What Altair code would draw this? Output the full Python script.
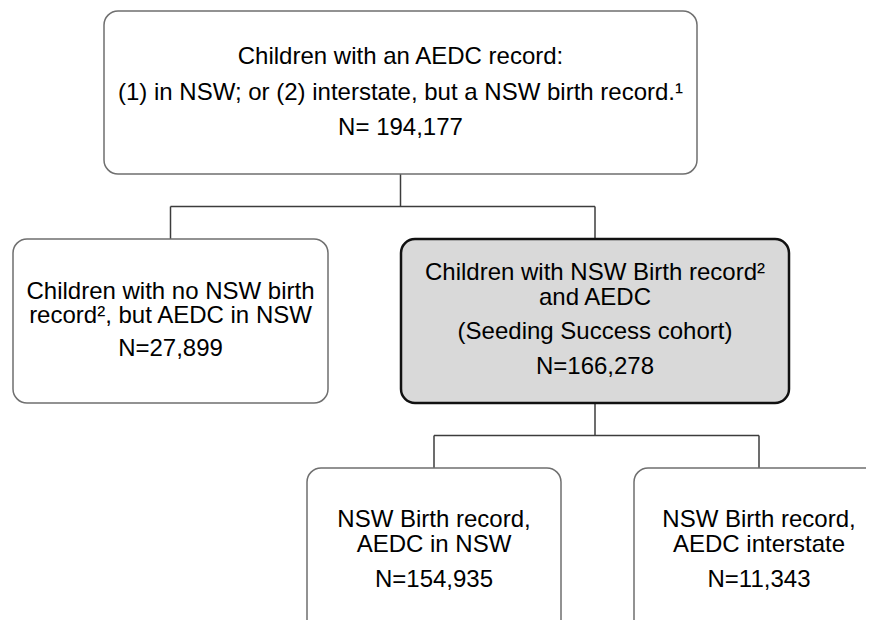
import altair as alt
import pandas as pd

# ---------------- content ----------------
node_ids = ["root", "no_birth", "cohort", "aedc_nsw", "aedc_inter"]
node_lines = [
    ["Children with an AEDC record:",
     "(1) in NSW; or (2) interstate, but a NSW birth record.\u00b9",
     "N= 194,177"],
    ["Children with no NSW birth", "record\u00b2, but AEDC in NSW", "N=27,899"],
    ["Children with NSW Birth record\u00b2", "and AEDC", "(Seeding Success cohort)", "N=166,278"],
    ["NSW Birth record,", "AEDC in NSW", "N=154,935"],
    ["NSW Birth record,", "AEDC interstate", "N=11,343"],
]
edge_parent = ["root", "root", "cohort", "cohort"]
edge_child = ["no_birth", "cohort", "aedc_nsw", "aedc_inter"]
highlighted = ["cohort"]

# ---------------- layout (pixel geometry of the flowchart) ----------------
layout = {
    "root":       dict(x0=104, x1=697, y0=11,  y1=174, lines=[46, 82, 117]),
    "no_birth":   dict(x0=13,  x1=328, y0=239, y1=403, lines=[53, 77, 110]),
    "cohort":     dict(x0=401, x1=789, y0=239, y1=403, lines=[34, 59, 93, 128]),
    "aedc_nsw":   dict(x0=307, x1=561, y0=468, y1=645, lines=[52, 77, 112]),
    "aedc_inter": dict(x0=634, x1=884, y0=468, y1=645, lines=[52, 77, 112]),
}

boxes = []
texts = []
for nid, lines in zip(node_ids, node_lines):
    g = layout[nid]
    hi = nid in highlighted
    boxes.append(dict(id=nid, x0=g["x0"], x1=g["x1"], y0=g["y0"], y1=g["y1"],
                      fill="#d9d9d9" if hi else "#ffffff",
                      stroke="#111111" if hi else "#6f6f6f",
                      sw=2.5 if hi else 1.5))
    cx = (g["x0"] + g["x1"]) / 2
    for ln, off in zip(lines, g["lines"]):
        texts.append(dict(id=nid, x=cx, y=g["y0"] + off, text=ln))

segs = []
parents = []
for p in edge_parent:
    if p not in parents:
        parents.append(p)
for p in parents:
    gp = layout[p]
    kids = [c for pp, c in zip(edge_parent, edge_child) if pp == p]
    pcx = (gp["x0"] + gp["x1"]) / 2
    ktop = min(layout[k]["y0"] for k in kids)
    bus = (gp["y1"] + ktop) / 2
    segs.append(dict(x=pcx, x2=pcx, y=gp["y1"], y2=bus))
    kcx = [(layout[k]["x0"] + layout[k]["x1"]) / 2 for k in kids]
    segs.append(dict(x=min(kcx), x2=max(kcx), y=bus, y2=bus))
    for k, c in zip(kids, kcx):
        segs.append(dict(x=c, x2=c, y=bus, y2=layout[k]["y0"]))

box_df = pd.DataFrame(boxes)
text_df = pd.DataFrame(texts)
seg_df = pd.DataFrame(segs)

xs = alt.Scale(domain=[8, 866], nice=False, zero=False)
ys = alt.Scale(domain=[8, 620], nice=False, zero=False, reverse=True)

rects = alt.Chart(box_df).mark_rect(cornerRadius=14, clip=True).encode(
    x=alt.X("x0:Q", scale=xs, axis=None),
    x2="x1:Q",
    y=alt.Y("y0:Q", scale=ys, axis=None),
    y2="y1:Q",
    fill=alt.Fill("fill:N", scale=None),
    stroke=alt.Stroke("stroke:N", scale=None),
    strokeWidth=alt.StrokeWidth("sw:Q", scale=None),
)

rules = alt.Chart(seg_df).mark_rule(color="#3c3c3c", strokeWidth=1.5).encode(
    x=alt.X("x:Q", scale=xs, axis=None),
    x2="x2:Q",
    y=alt.Y("y:Q", scale=ys, axis=None),
    y2="y2:Q",
)

labels = alt.Chart(text_df).mark_text(
    font="Liberation Sans", fontSize=24, color="#000000",
    align="center", baseline="middle",
).encode(
    x=alt.X("x:Q", scale=xs, axis=None),
    y=alt.Y("y:Q", scale=ys, axis=None),
    text="text:N",
)

chart = alt.layer(rules, rects, labels).properties(
    width=858, height=612, padding=0, autosize="none",
    background="#ffffff",
).configure_view(stroke=None)

chart.save("out.html", embed_options={"renderer": "svg", "actions": False})
